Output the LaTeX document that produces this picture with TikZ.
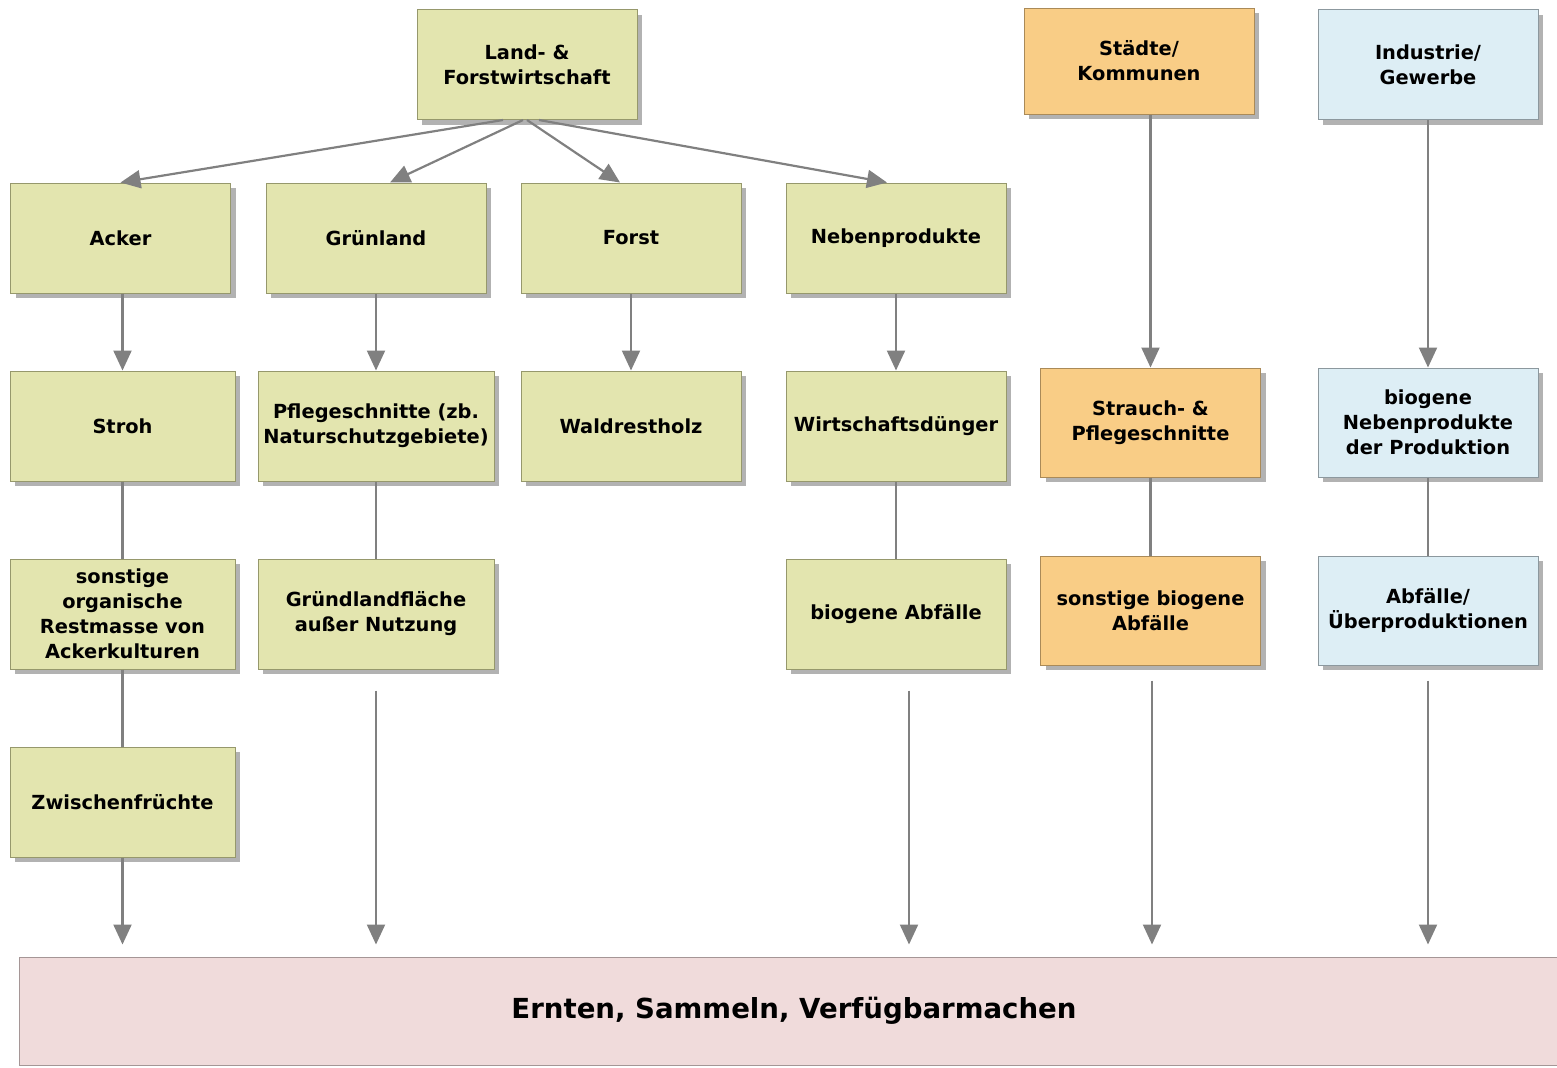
\documentclass[tikz,border=0pt]{standalone}
\usepackage{fontspec}
\setmainfont{DejaVu Sans}
\usetikzlibrary{arrows.meta,shadows}

\definecolor{feldgruen}{RGB}{227,229,175}
\definecolor{feldrand}{RGB}{150,152,108}
\definecolor{stadtorange}{RGB}{249,205,134}
\definecolor{stadtrand}{RGB}{170,138,88}
\definecolor{industrieblau}{RGB}{221,238,245}
\definecolor{industrierand}{RGB}{140,152,158}
\definecolor{erntenrosa}{RGB}{240,219,219}
\definecolor{erntenrand}{RGB}{165,150,150}
\definecolor{pfeilgrau}{RGB}{128,128,128}

\begin{document}
\begin{tikzpicture}[x=0.5pt,y=-0.5pt,
    kasten/.style={draw, line width=0.5pt, minimum width=110pt, minimum height=55pt,
      inner sep=0pt, align=center, font=\bfseries\fontsize{9.7}{12.5}\selectfont,
      drop shadow={shadow xshift=2.5pt, shadow yshift=-2.5pt, fill=black, opacity=0.3}},
    land/.style={kasten, fill=feldgruen, draw=feldrand},
    stadt/.style={kasten, fill=stadtorange, draw=stadtrand},
    industrie/.style={kasten, fill=industrieblau, draw=industrierand},
    pfeil/.style={draw=pfeilgrau, line width=1.1pt, -{Triangle[width=9pt,length=10pt]}},
    linie/.style={draw=pfeilgrau, line width=1.1pt}]
  \clip (0,0) rectangle (1557,1067);

  \node[land] (lf) at (527,64.5) {Land- \&\\Forstwirtschaft};
  \node[stadt, minimum width=115pt, minimum height=53pt] (staedte) at (1139,61) {Städte/\\Kommunen};
  \node[industrie] (industrie) at (1428,64.5) {Industrie/\\Gewerbe};

  \node[land] (acker) at (120.5,238) {Acker};
  \node[land] (gruenland) at (376,238) {Grünland};
  \node[land] (forst) at (631,238) {Forst};
  \node[land] (neben) at (896,238) {Nebenprodukte};

  \node[land, minimum width=112.5pt] (stroh) at (122.5,426) {Stroh};
  \node[land, minimum width=118pt] (pflege) at (376,426) {Pflegeschnitte (zb.\\Naturschutzgebiete)};
  \node[land] (wald) at (631,426) {Waldrestholz};
  \node[land] (wirt) at (896,426) {Wirtschaftsdünger};
  \node[stadt, minimum height=54.5pt] (strauch) at (1150.5,422.5) {Strauch- \&\\Pflegeschnitte};
  \node[industrie, minimum height=54.5pt] (bionp) at (1428,422.5) {biogene\\Nebenprodukte\\der Produktion};

  \node[land, minimum width=112.5pt] (sonst) at (122.5,614) {sonstige\\organische\\Restmasse von\\Ackerkulturen};
  \node[land, minimum width=118pt] (gruendl) at (376,614) {Gründlandfläche\\außer Nutzung};
  \node[land] (bioabf) at (896,614) {biogene Abfälle};
  \node[stadt, minimum height=54.5pt] (sonstbio) at (1150.5,610.5) {sonstige biogene\\Abfälle};
  \node[industrie, minimum height=54.5pt] (abf) at (1428,610.5) {Abfälle/\\Überproduktionen};

  \node[land, minimum width=112.5pt] (zwischen) at (122.5,802) {Zwischenfrüchte};

  \node[draw=erntenrand, fill=erntenrosa, line width=0.5pt, minimum width=775pt, minimum height=54pt,
    font=\bfseries\fontsize{13.8}{16}\selectfont] (ernten) at (794,1011) {Ernten, Sammeln, Verfügbarmachen};

  \draw[pfeil] ([xshift=-12pt]lf.south) -- (acker.north);
  \draw[pfeil] ([xshift=-2pt]lf.south) -- ([xshift=7pt]gruenland.north);
  \draw[pfeil] (lf.south) -- ([xshift=-5.5pt]forst.north);
  \draw[pfeil] ([xshift=6pt]lf.south) -- ([xshift=-4.5pt]neben.north);

  \draw[pfeil] (stroh.north |- acker.south) -- (stroh.north);
  \draw[pfeil] (gruenland.south) -- (pflege.north);
  \draw[pfeil] (forst.south) -- (wald.north);
  \draw[pfeil] (neben.south) -- (wirt.north);
  \draw[pfeil] (strauch.north |- staedte.south) -- (strauch.north);
  \draw[pfeil] (industrie.south) -- (bionp.north);

  \draw[linie] (stroh) -- (sonst);
  \draw[linie] (sonst) -- (zwischen);
  \draw[linie] (pflege) -- (gruendl);
  \draw[linie] (wirt) -- (bioabf);
  \draw[linie] (strauch) -- (sonstbio);
  \draw[linie] (bionp) -- (abf);

  \draw[pfeil, shorten >=6pt] (zwischen.south) -- (zwischen.south |- ernten.north);
  \draw[pfeil, shorten <=10.5pt, shorten >=6pt] (gruendl.south) -- (gruendl.south |- ernten.north);
  \draw[pfeil, shorten <=10.5pt, shorten >=6pt] ([xshift=6.5pt]bioabf.south) -- ([xshift=6.5pt]bioabf.south |- ernten.north);
  \draw[pfeil, shorten <=7.5pt, shorten >=6pt] ([xshift=0.75pt]sonstbio.south) -- ([xshift=0.75pt]sonstbio.south |- ernten.north);
  \draw[pfeil, shorten <=7.5pt, shorten >=6pt] (abf.south) -- (abf.south |- ernten.north);
\end{tikzpicture}
\end{document}
